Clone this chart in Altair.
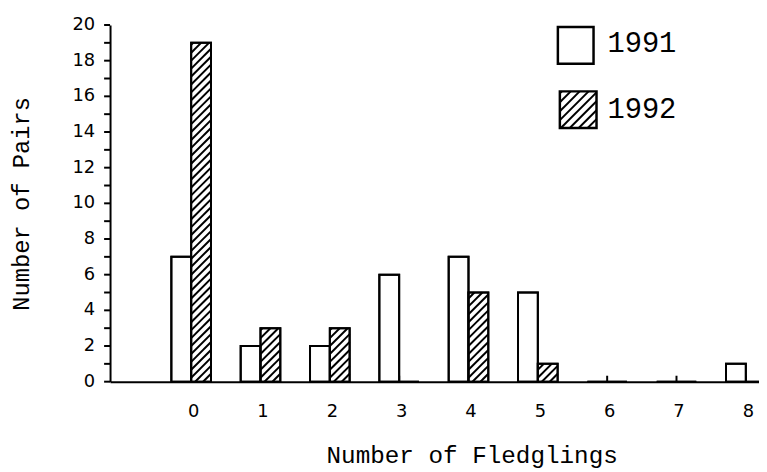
import altair as alt
import pandas as pd
import numpy as np

# ---- data ----
fledglings = [0, 1, 2, 3, 4, 5, 6, 7, 8]
pairs_1991 = [7, 2, 2, 6, 7, 5, 0, 0, 1]
pairs_1992 = [19, 3, 3, 0, 5, 1, 0, 0, 0]
years = ["1991", "1992"]
x_tick_values = [0, 1, 2, 3, 4, 5, 6, 7, 8]
y_label_values = [0, 2, 4, 6, 8, 10, 12, 14, 16, 18, 20]
y_tick_values = list(range(0, 21))

# ---- layout ----
W, H = 655, 360
X_DOM = [-1.17, 8.19]
Y_DOM = [0, 20]
PX_X = W / (X_DOM[1] - X_DOM[0])
PX_Y = H / (Y_DOM[1] - Y_DOM[0])
BAR_PX = 20
BAR = BAR_PX / PX_X
HATCH_S = 8  # vertical spacing of hatch lines in px

rows = []
for n, a, b in zip(fledglings, pairs_1991, pairs_1992):
    rows.append({"year": "1991", "n": n, "count": a, "base": 0, "x0": n - BAR, "x1": n})
    rows.append({"year": "1992", "n": n, "count": b, "base": 0, "x0": n, "x1": n + BAR})
bars = pd.DataFrame(rows)

# hatch lines for the 1992 bars (derived from the bar values)
hrows = []
for n, b in zip(fledglings, pairs_1992):
    if b <= 0:
        continue
    hpx = b * PX_Y
    for c in np.arange(-BAR_PX, hpx, HATCH_S):
        t0 = max(0.0, -c)
        t1 = min(BAR_PX, hpx - c)
        if t1 - t0 > 0.5:
            hrows.append({"hx": n + t0 / PX_X, "hx2": n + t1 / PX_X,
                          "hy": (c + t0) / PX_Y, "hy2": (c + t1) / PX_Y})
hatch = pd.DataFrame(hrows)

ticks_df = pd.DataFrame({"t": x_tick_values, "b": 0, "h": 6 / PX_Y})
ytick_df = pd.DataFrame({"v": y_tick_values})
ylab_df = pd.DataFrame({"v": y_label_values, "lab": [str(v) for v in y_label_values]})

# ---- legend (pixel coordinates inside plot area) ----
leg_sq = pd.DataFrame({
    "year": years,
    "lx": [452, 454], "lx2": [488, 491],
    "ly": [2, 67], "ly2": [39, 104],
    "tx": [502, 502], "ty": [18, 85],
})
lh = []
SQ = 37
x0, yb = 454, 104
for c in np.arange(-SQ, SQ, 9):
    t0 = max(0.0, -c)
    t1 = min(SQ, SQ - c)
    if t1 - t0 > 0.5:
        lh.append({"a": x0 + t0, "a2": x0 + t1, "b": yb - (c + t0), "b2": yb - (c + t1)})
leg_hatch = pd.DataFrame(lh)

SANS = "DejaVu Sans"
TYPE = "Liberation Mono"

xscale = alt.Scale(domain=X_DOM, nice=False, zero=False)
yscale = alt.Scale(domain=Y_DOM, nice=False, zero=False)

x_axis = alt.Axis(
    values=x_tick_values, format="d", ticks=False, tickSize=0, grid=False,
    domainColor="black", domainWidth=2, labelOverlap=False, labelOffset=2,
    labelFont=SANS, labelFontSize=18, labelColor="black",
    labelPadding=21,
    title="Number of Fledglings", titleFont=TYPE, titleFontSize=24.5,
    titleFontWeight="normal", titleColor="black",
    titleX=365, titleY=82, titleAlign="center", titleBaseline="alphabetic",
)
y_axis = alt.Axis(
    labels=False, ticks=False, grid=False,
    domainColor="black", domainWidth=2,
    title="Number of Pairs", titleFont=TYPE, titleFontSize=24,
    titleFontWeight="normal", titleColor="black",
    titleX=-89, titleY=180, titleAngle=270, titleAlign="center", titleBaseline="middle",
)

inward_ticks = alt.Chart(ticks_df).mark_rule(color="black", strokeWidth=2).encode(
    x=alt.X("t:Q", scale=xscale, axis=x_axis),
    y=alt.Y("b:Q", scale=yscale, axis=y_axis),
    y2="h:Q",
)

y_ticks = alt.Chart(ytick_df).mark_rule(color="black", strokeWidth=2).encode(
    x=alt.value(-6),
    x2=alt.value(0),
    y=alt.Y("v:Q", scale=yscale),
)

y_labels = alt.Chart(ylab_df).mark_text(
    font=SANS, fontSize=18, align="right", baseline="middle", color="black"
).encode(
    x=alt.value(-15),
    y=alt.Y("v:Q", scale=yscale),
    text="lab:N",
)

bar_fill = alt.Chart(bars).mark_rect(fill="white", stroke="black", strokeWidth=2).encode(
    x=alt.X("x0:Q", scale=xscale),
    x2="x1:Q",
    y=alt.Y("base:Q", scale=yscale),
    y2="count:Q",
)

hatch_lines = alt.Chart(hatch).mark_rule(color="black", strokeWidth=2).encode(
    x=alt.X("hx:Q", scale=xscale),
    x2="hx2:Q",
    y=alt.Y("hy:Q", scale=yscale),
    y2="hy2:Q",
)

bar_outline = alt.Chart(bars).mark_rect(fillOpacity=0, stroke="black", strokeWidth=2).encode(
    x=alt.X("x0:Q", scale=xscale),
    x2="x1:Q",
    y=alt.Y("base:Q", scale=yscale),
    y2="count:Q",
)

legend_hatch = alt.Chart(leg_hatch).mark_rule(color="black", strokeWidth=2).encode(
    x=alt.X("a:Q", scale=None, axis=None),
    x2="a2:Q",
    y=alt.Y("b:Q", scale=None, axis=None),
    y2="b2:Q",
)

legend_box = alt.Chart(leg_sq).mark_rect(fillOpacity=0, stroke="black", strokeWidth=2.5).encode(
    x=alt.X("lx:Q", scale=None, axis=None),
    x2="lx2:Q",
    y=alt.Y("ly:Q", scale=None, axis=None),
    y2="ly2:Q",
)

legend_text = alt.Chart(leg_sq).mark_text(
    font=TYPE, fontSize=29, align="left", baseline="middle", color="black"
).encode(
    x=alt.X("tx:Q", scale=None, axis=None),
    y=alt.Y("ty:Q", scale=None, axis=None),
    text="year:N",
)

chart = alt.layer(
    inward_ticks, y_ticks, y_labels, bar_fill, hatch_lines, bar_outline,
    legend_hatch, legend_box, legend_text,
).properties(
    width=W, height=H,
    autosize=alt.AutoSizeParams(type="none"),
    padding={"left": 103, "top": 15, "right": 0, "bottom": 89},
    background="white",
).configure_view(stroke=None)

chart.save("out.html", embed_options={"renderer": "svg", "actions": False})
